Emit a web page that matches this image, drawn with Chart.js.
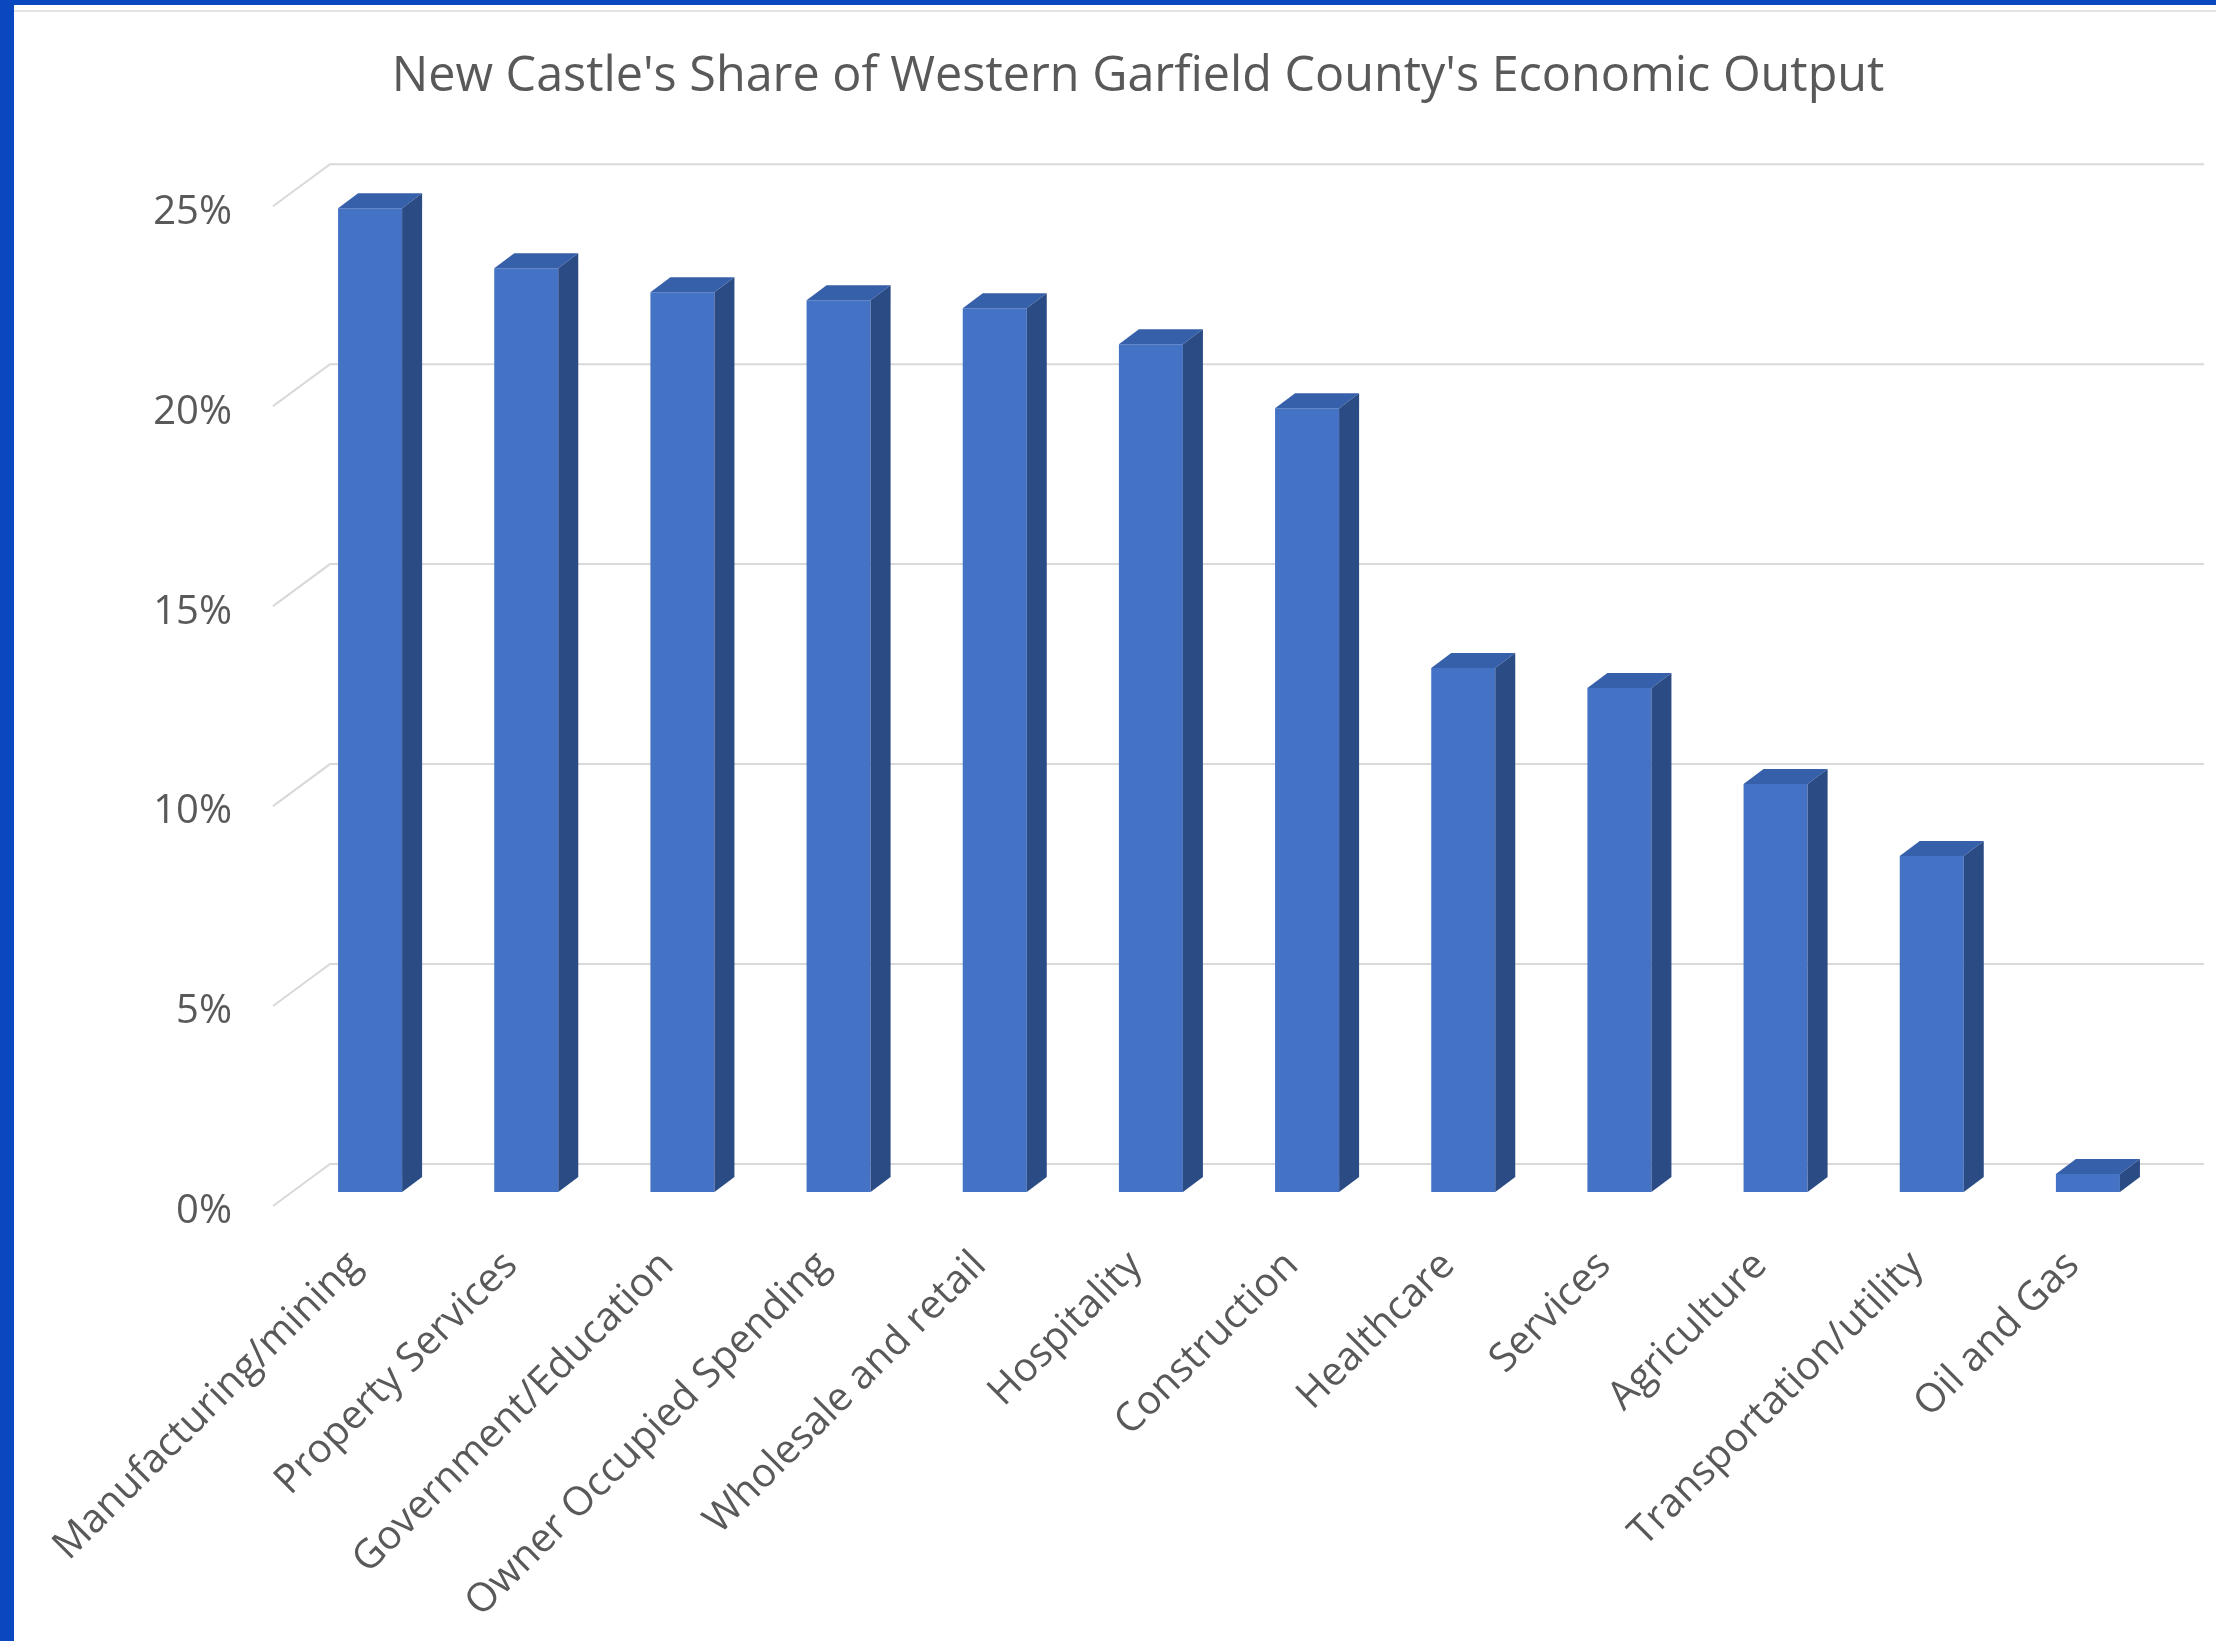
<!DOCTYPE html>
<html>
<head>
<meta charset="utf-8">
<script src="https://cdn.jsdelivr.net/npm/chart.js@4"></script>
<style>
  html, body { margin: 0; padding: 0; background: #fff; overflow: hidden; }
  #wrap { width: 2216px; height: 1641px; position: relative; }
</style>
</head>
<body>
<div id="wrap"><canvas id="chart"></canvas></div>
<script>
const categories = [
  "Manufacturing/mining",
  "Property Services",
  "Government/Education",
  "Owner Occupied Spending",
  "Wholesale and retail",
  "Hospitality",
  "Construction",
  "Healthcare",
  "Services",
  "Agriculture",
  "Transportation/utility",
  "Oil and Gas",
];
const shares = [24.6, 23.1, 22.5, 22.3, 22.1, 21.2, 19.6, 13.1, 12.6, 10.2, 8.4, 0.45];
const tickValues = [0, 5, 10, 15, 20, 25];
const tickLabels = ["0%", "5%", "10%", "15%", "20%", "25%"];

const textGray = "#595959";
const gridGray = "#d9d9d9";

// 3d look: the bar face plane is the chart area, the floor goes from
// (-19, +14) in front of it to (+38, -28) behind it
const FRONT = { dx: -19, dy: 14 };
const BACK = { dx: 38, dy: -28 };
const BAR_DEPTH = { dx: 20, dy: -15 };

const depth3d = {
  id: "depth3d",
  beforeDraw(chart) {
    const ctx = chart.ctx;
    ctx.save();
    ctx.fillStyle = "#ffffff";
    ctx.fillRect(0, 0, chart.width, chart.height);
    ctx.fillStyle = "#e3e3e3";
    ctx.fillRect(14, 10, chart.width, 2);
    ctx.fillStyle = "#0a48c0";
    ctx.fillRect(0, 0, 14, chart.height);
    ctx.fillRect(0, 0, chart.width, 5);
    ctx.restore();
  },
  beforeDatasetsDraw(chart) {
    const { ctx, chartArea, scales } = chart;
    const y = scales.y;
    ctx.save();
    ctx.strokeStyle = gridGray;
    ctx.lineWidth = 2;
    y.ticks.forEach((t) => {
      const py = y.getPixelForValue(t.value);
      ctx.beginPath();
      ctx.moveTo(chartArea.left + FRONT.dx, py + FRONT.dy);
      ctx.lineTo(chartArea.left + BACK.dx, py + BACK.dy);
      ctx.lineTo(chartArea.right + BACK.dx, py + BACK.dy);
      ctx.stroke();
    });
    ctx.restore();
  },
  afterDatasetsDraw(chart) {
    const ctx = chart.ctx;
    const meta = chart.getDatasetMeta(0);
    ctx.save();
    meta.data.forEach((bar) => {
      const { x, y, base, width } = bar.getProps(["x", "y", "base", "width"], true);
      const l = x - width / 2;
      const r = x + width / 2;
      // top
      ctx.fillStyle = "#3760ab";
      ctx.beginPath();
      ctx.moveTo(l, y);
      ctx.lineTo(l + BAR_DEPTH.dx, y + BAR_DEPTH.dy);
      ctx.lineTo(r + BAR_DEPTH.dx, y + BAR_DEPTH.dy);
      ctx.lineTo(r, y);
      ctx.closePath();
      ctx.fill();
      // side
      ctx.fillStyle = "#2b4b85";
      ctx.beginPath();
      ctx.moveTo(r, y);
      ctx.lineTo(r + BAR_DEPTH.dx, y + BAR_DEPTH.dy);
      ctx.lineTo(r + BAR_DEPTH.dx, base + BAR_DEPTH.dy);
      ctx.lineTo(r, base);
      ctx.closePath();
      ctx.fill();
    });
    ctx.restore();
  },
};

new Chart(document.getElementById("chart"), {
  type: "bar",
  data: {
    labels: categories,
    datasets: [
      {
        label: "Share",
        data: shares,
        backgroundColor: "#4472c4",
        borderWidth: 0,
        barPercentage: 1,
        categoryPercentage: 0.41,
      },
    ],
  },
  options: {
    responsive: true,
    maintainAspectRatio: false,
    animation: false,
    layout: {
      padding: { left: 110, right: 50, top: 10, bottom: 0 },
    },
    scales: {
      x: {
        offset: true,
        grid: { display: false, drawTicks: false },
        border: { display: false },
        ticks: {
          autoSkip: false,
          maxRotation: 45,
          minRotation: 45,
          padding: 50,
          labelOffset: -15,
          color: textGray,
          font: { family: "Open Sans", size: 40 },
        },
        afterFit(scale) {
          scale.height = 449;
        },
      },
      y: {
        min: 0,
        max: 25,
        afterBuildTicks(scale) {
          scale.ticks = tickValues.map((v) => ({ value: v }));
        },
        grid: { display: false, drawTicks: false },
        border: { display: false },
        ticks: {
          padding: 60,
          labelOffset: 20,
          color: textGray,
          font: { family: "Open Sans", size: 40 },
          callback: (v) => tickLabels[tickValues.indexOf(v)],
        },
        afterFit(scale) {
          scale.width = 182;
        },
      },
    },
    plugins: {
      legend: { display: false },
      tooltip: { enabled: false },
      title: {
        display: true,
        text: "New Castle's Share of Western Garfield County's Economic Output",
        color: textGray,
        font: { family: "Open Sans", size: 48.5, weight: "normal" },
        padding: { top: 38, bottom: 86 },
      },
    },
  },
  plugins: [depth3d],
});
</script>
</body>
</html>
